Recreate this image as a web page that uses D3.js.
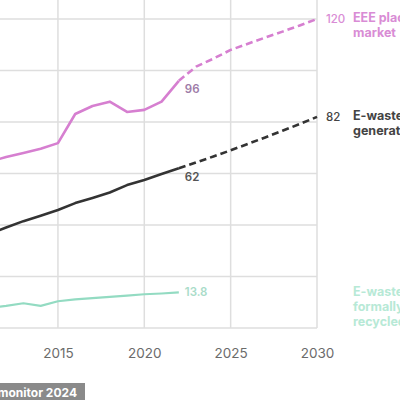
<!DOCTYPE html>
<html>
<head>
<meta charset="utf-8">
<script src="https://cdn.jsdelivr.net/npm/d3@7"></script>
<style>
  html, body { margin: 0; padding: 0; background: #fff; }
  svg { display: block; font-family: Inter, "Open Sans", sans-serif; }
</style>
</head>
<body>
<svg id="chart" width="400" height="400"></svg>
<script>
// ---- data ----
const years = [2010, 2011, 2012, 2013, 2014, 2015, 2016, 2017, 2018, 2019, 2020, 2021, 2022];
const eeePlaced = [62, 64.5, 66.4, 68, 69.6, 71.8, 83.1, 86.2, 87.9, 83.9, 84.7, 87.9, 96];
const eWasteGenerated = [34, 36.5, 39, 41.5, 43.6, 45.8, 48.5, 50.5, 52.6, 55.5, 57.5, 59.8, 62];
const eWasteRecycled = [7.2, 7.8, 8.6, 9.6, 8.6, 10.4, 11.1, 11.6, 12.1, 12.6, 13.1, 13.4, 13.8];

const projYears = [2022, 2023, 2024, 2025, 2026, 2027, 2028, 2029, 2030];
const eeeProjected = [96, 101.5, 104.6, 108, 110.4, 112.8, 115.1, 117.5, 120];
const generatedProjected = [62, 64.3, 66.6, 69, 71.5, 74, 76.6, 79.2, 82];

const gridYears = [2010, 2015, 2020, 2025, 2030];
const xTickLabels = [2015, 2020, 2025, 2030];
const yTicks = [0, 20, 40, 60, 80, 100, 120];

const seriesLabels = [
  { lines: ["EEE placed on", "market"], value: "120", end: 120, color: "#d98cd5" },
  { lines: ["E-waste", "generated"], value: "82", end: 82, color: "#444444" },
  { lines: ["E-waste", "formally", "recycled"], value: "", end: 13.8, color: "#b7e9d6" }
];
const sourceText = "Source: Global E-waste monitor 2024";

// ---- chart ----
const svg = d3.select("#chart");
const x = d3.scaleLinear().domain([2010, 2030]).range([-28.4, 317]);
const y = d3.scaleLinear().domain([0, 120]).range([328, 19]);

const grid = svg.append("g");
grid.selectAll("line.h").data(yTicks).join("line")
  .attr("x1", x(2010)).attr("x2", x(2030))
  .attr("y1", d => y(d)).attr("y2", d => y(d))
  .attr("stroke", "#dedede").attr("stroke-width", 1.5);
grid.selectAll("line.v").data(gridYears).join("line")
  .attr("x1", d => x(d)).attr("x2", d => x(d))
  .attr("y1", y(0)).attr("y2", -5)
  .attr("stroke", "#dedede").attr("stroke-width", 1.5);

const xAxis = d3.axisBottom(x).tickValues(xTickLabels).tickFormat(d3.format("d")).tickSize(0).tickPadding(20);
const ax = svg.append("g").attr("transform", `translate(0,${y(0)})`).call(xAxis);
ax.select(".domain").remove();
ax.selectAll("text").attr("fill", "#6b6b6b").attr("font-size", 13.5).attr("font-family", "Inter, sans-serif");

const line = d3.line().x(d => x(d[0])).y(d => y(d[1]));

function drawSeries(xs, vs, color, width, dash) {
  svg.append("path")
    .datum(xs.map((yr, i) => [yr, vs[i]]))
    .attr("d", line)
    .attr("fill", "none")
    .attr("stroke", color)
    .attr("stroke-width", width)
    .attr("stroke-linejoin", "round")
    .attr("stroke-dasharray", dash || null);
}

drawSeries(years, eWasteRecycled, "#93dbc2", 2.2);
drawSeries(projYears, generatedProjected, "#333333", 2.6, "7,4");
drawSeries(years, eWasteGenerated, "#333333", 2.6);
drawSeries(projYears, eeeProjected, "#d67fd0", 2.6, "7,4");
drawSeries(years, eeePlaced, "#d67fd0", 2.6);

// end-of-data labels (2022)
const endLabels = [
  { text: "96", v: eeePlaced[eeePlaced.length - 1], color: "#9e7ca8", dy: 8 },
  { text: "62", v: eWasteGenerated[eWasteGenerated.length - 1], color: "#555555", dy: 9 },
  { text: "13.8", v: eWasteRecycled[eWasteRecycled.length - 1], color: "#a9dcc9", dy: 0 }
];
svg.selectAll("text.end").data(endLabels).join("text")
  .attr("x", x(2022) + 6)
  .attr("y", d => y(d.v) + d.dy)
  .attr("dy", "0.35em")
  .attr("fill", d => d.color)
  .attr("font-size", 11.5)
  .attr("font-weight", 600)
  .text(d => d.text);

// right-hand labels
seriesLabels.forEach(s => {
  const cy = y(s.end);
  if (s.value) {
    svg.append("text")
      .attr("x", 326).attr("y", cy).attr("dy", "0.35em")
      .attr("fill", s.color).attr("font-size", 11.5).attr("font-weight", 500)
      .text(s.value);
  }
  s.lines.forEach((ln, i) => {
    svg.append("text")
      .attr("x", 353).attr("y", cy - 1 + i * 15).attr("dy", "0.35em")
      .attr("fill", s.color).attr("font-size", 12.5).attr("font-weight", 700)
      .text(ln);
  });
});

// source badge
svg.append("rect").attr("x", -200).attr("y", 383).attr("width", 285).attr("height", 20).attr("fill", "#8a8a8a");
svg.append("text").attr("x", 77).attr("y", 393).attr("dy", "0.35em")
  .attr("text-anchor", "end").attr("fill", "#ffffff")
  .attr("font-size", 12).attr("font-weight", 700)
  .text(sourceText);
</script>
</body>
</html>
